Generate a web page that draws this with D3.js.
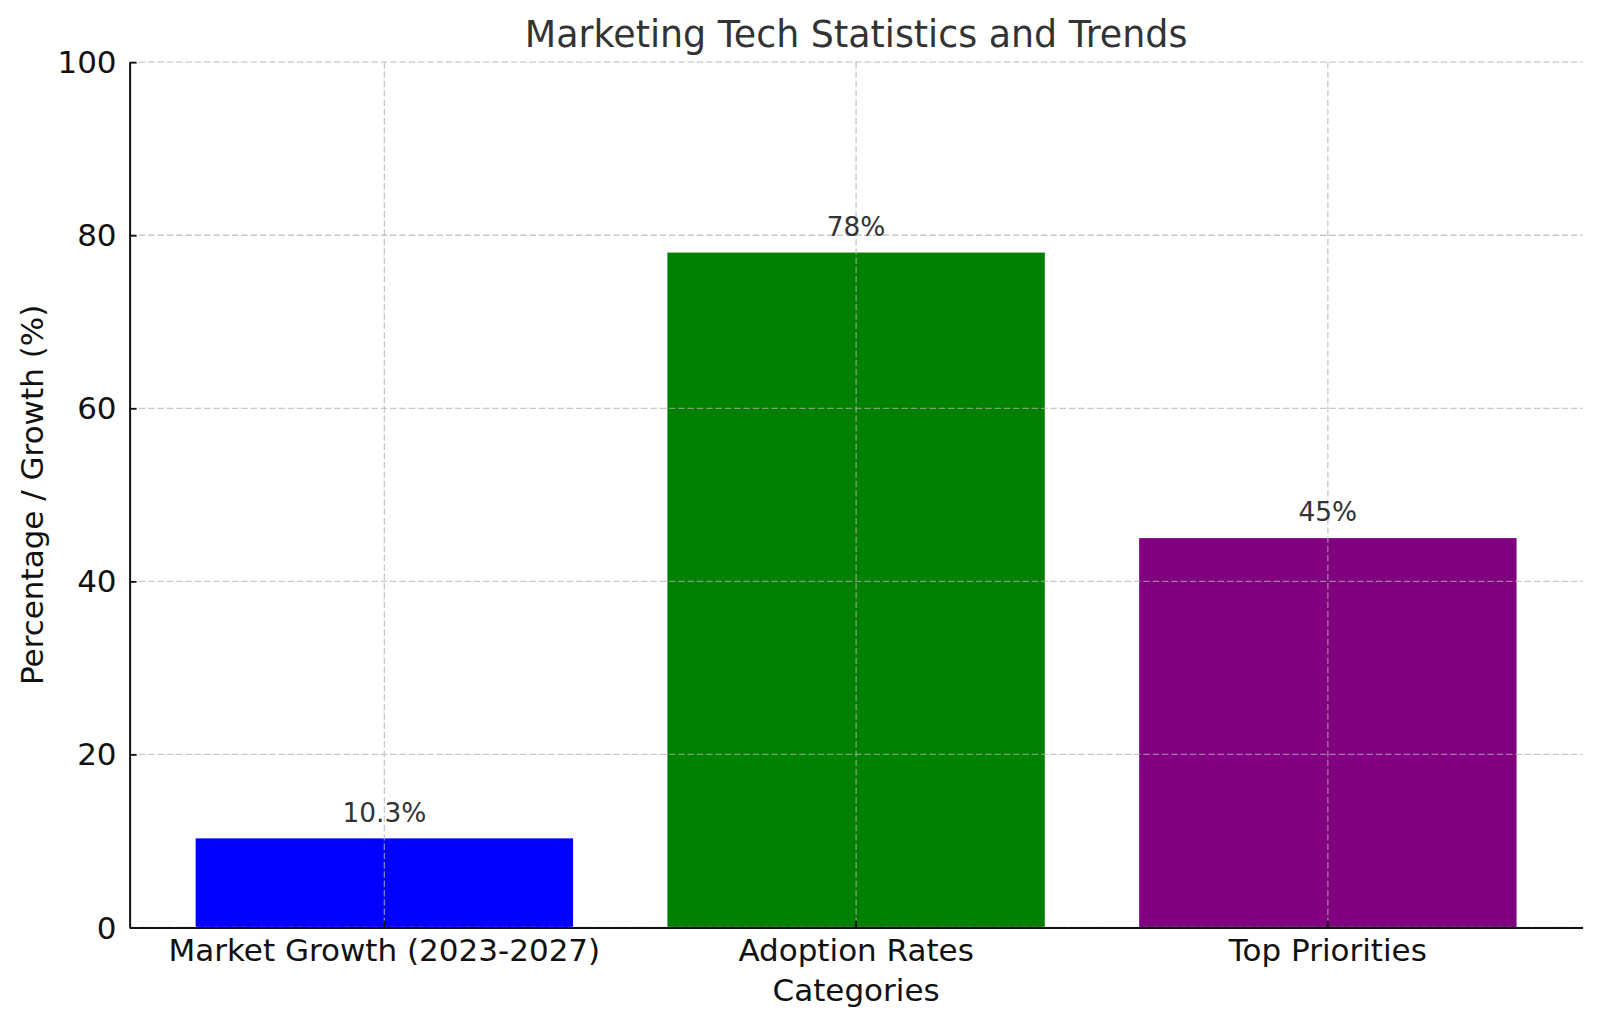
<!DOCTYPE html>
<html>
<head>
<meta charset="utf-8">
<script src="https://cdn.jsdelivr.net/npm/d3@7/dist/d3.min.js"></script>
<style>
  html, body { margin: 0; padding: 0; background: #fff; }
  svg { display: block; font-family: "DejaVu Sans", sans-serif; }
</style>
</head>
<body>
<svg id="chart" width="1600" height="1028"></svg>
<script>
const categories = ["Market Growth (2023-2027)", "Adoption Rates", "Top Priorities"];
const values = [10.3, 78, 45];
const valueLabels = ["10.3%", "78%", "45%"];
const barColors = ["#0000ff", "#008000", "#800080"];
const yTicks = [0, 20, 40, 60, 80, 100];
const titleText = "Marketing Tech Statistics and Trends";
const xLabelText = "Categories";
const yLabelText = "Percentage / Growth (%)";

const svg = d3.select("#chart");
const margin = { left: 129.6, right: 1600 - 1582.6, top: 62.2, bottom: 1028 - 927.5 };
const W = 1600 - margin.left - margin.right;
const H = 1028 - margin.top - margin.bottom;

const x = d3.scaleBand().domain(categories).range([0, W]).paddingInner(0.2).paddingOuter(0.14);
const y = d3.scaleLinear().domain([0, 100]).range([H, 0]);

const g = svg.append("g").attr("transform", `translate(${margin.left},${margin.top})`);

// bars
g.selectAll("rect.bar").data(categories).join("rect")
  .attr("class", "bar")
  .attr("x", d => x(d))
  .attr("width", x.bandwidth())
  .attr("y", (d, i) => y(values[i]))
  .attr("height", (d, i) => H - y(values[i]))
  .attr("fill", (d, i) => barColors[i]);

// grid (drawn over bars)
const grid = g.append("g").attr("stroke", "#b0b0b0").attr("stroke-opacity", 0.7)
  .attr("stroke-width", 1.3).attr("stroke-dasharray", "6.5,2.8");
grid.selectAll("line.h").data(yTicks).join("line")
  .attr("x1", 0).attr("x2", W).attr("y1", d => y(d)).attr("y2", d => y(d));
grid.selectAll("line.v").data(categories).join("line")
  .attr("y1", 0).attr("y2", H)
  .attr("x1", d => x(d) + x.bandwidth() / 2).attr("x2", d => x(d) + x.bandwidth() / 2);

// value labels
g.selectAll("text.val").data(categories).join("text")
  .attr("class", "val")
  .attr("x", d => x(d) + x.bandwidth() / 2)
  .attr("y", (d, i) => y(values[i]) - 16.8)
  .attr("text-anchor", "middle")
  .attr("fill", "#333")
  .style("font-size", "26.4px")
  .text((d, i) => valueLabels[i]);

// axes
const yAxis = g.append("g")
  .call(d3.axisLeft(y).tickValues(yTicks).tickSizeInner(-7).tickSizeOuter(0).tickPadding(13));
const xAxis = g.append("g").attr("transform", `translate(0,${H})`)
  .call(d3.axisBottom(x).tickSizeInner(-7).tickSizeOuter(0).tickPadding(11.5));

[yAxis, xAxis].forEach(a => {
  a.select(".domain").attr("stroke", "#111").attr("stroke-width", 2);
  a.selectAll(".tick line").attr("stroke", "#111").attr("stroke-width", 1.8);
  a.selectAll(".tick text").attr("fill", "#111").style("font-size", "31px")
    .style("font-family", "DejaVu Sans, sans-serif");
});
yAxis.selectAll(".tick text").attr("dy", "0.34em");

// title
svg.append("text")
  .attr("x", margin.left + W / 2).attr("y", 46.6)
  .attr("text-anchor", "middle").attr("fill", "#333")
  .style("font-size", "36.4px").text(titleText);

// x label
svg.append("text")
  .attr("x", margin.left + W / 2).attr("y", 1001)
  .attr("text-anchor", "middle").attr("fill", "#111")
  .style("font-size", "31px").text(xLabelText);

// y label
svg.append("text")
  .attr("transform", `translate(43,${margin.top + H / 2}) rotate(-90)`)
  .attr("text-anchor", "middle").attr("fill", "#111")
  .style("font-size", "31px").text(yLabelText);
</script>
</body>
</html>
